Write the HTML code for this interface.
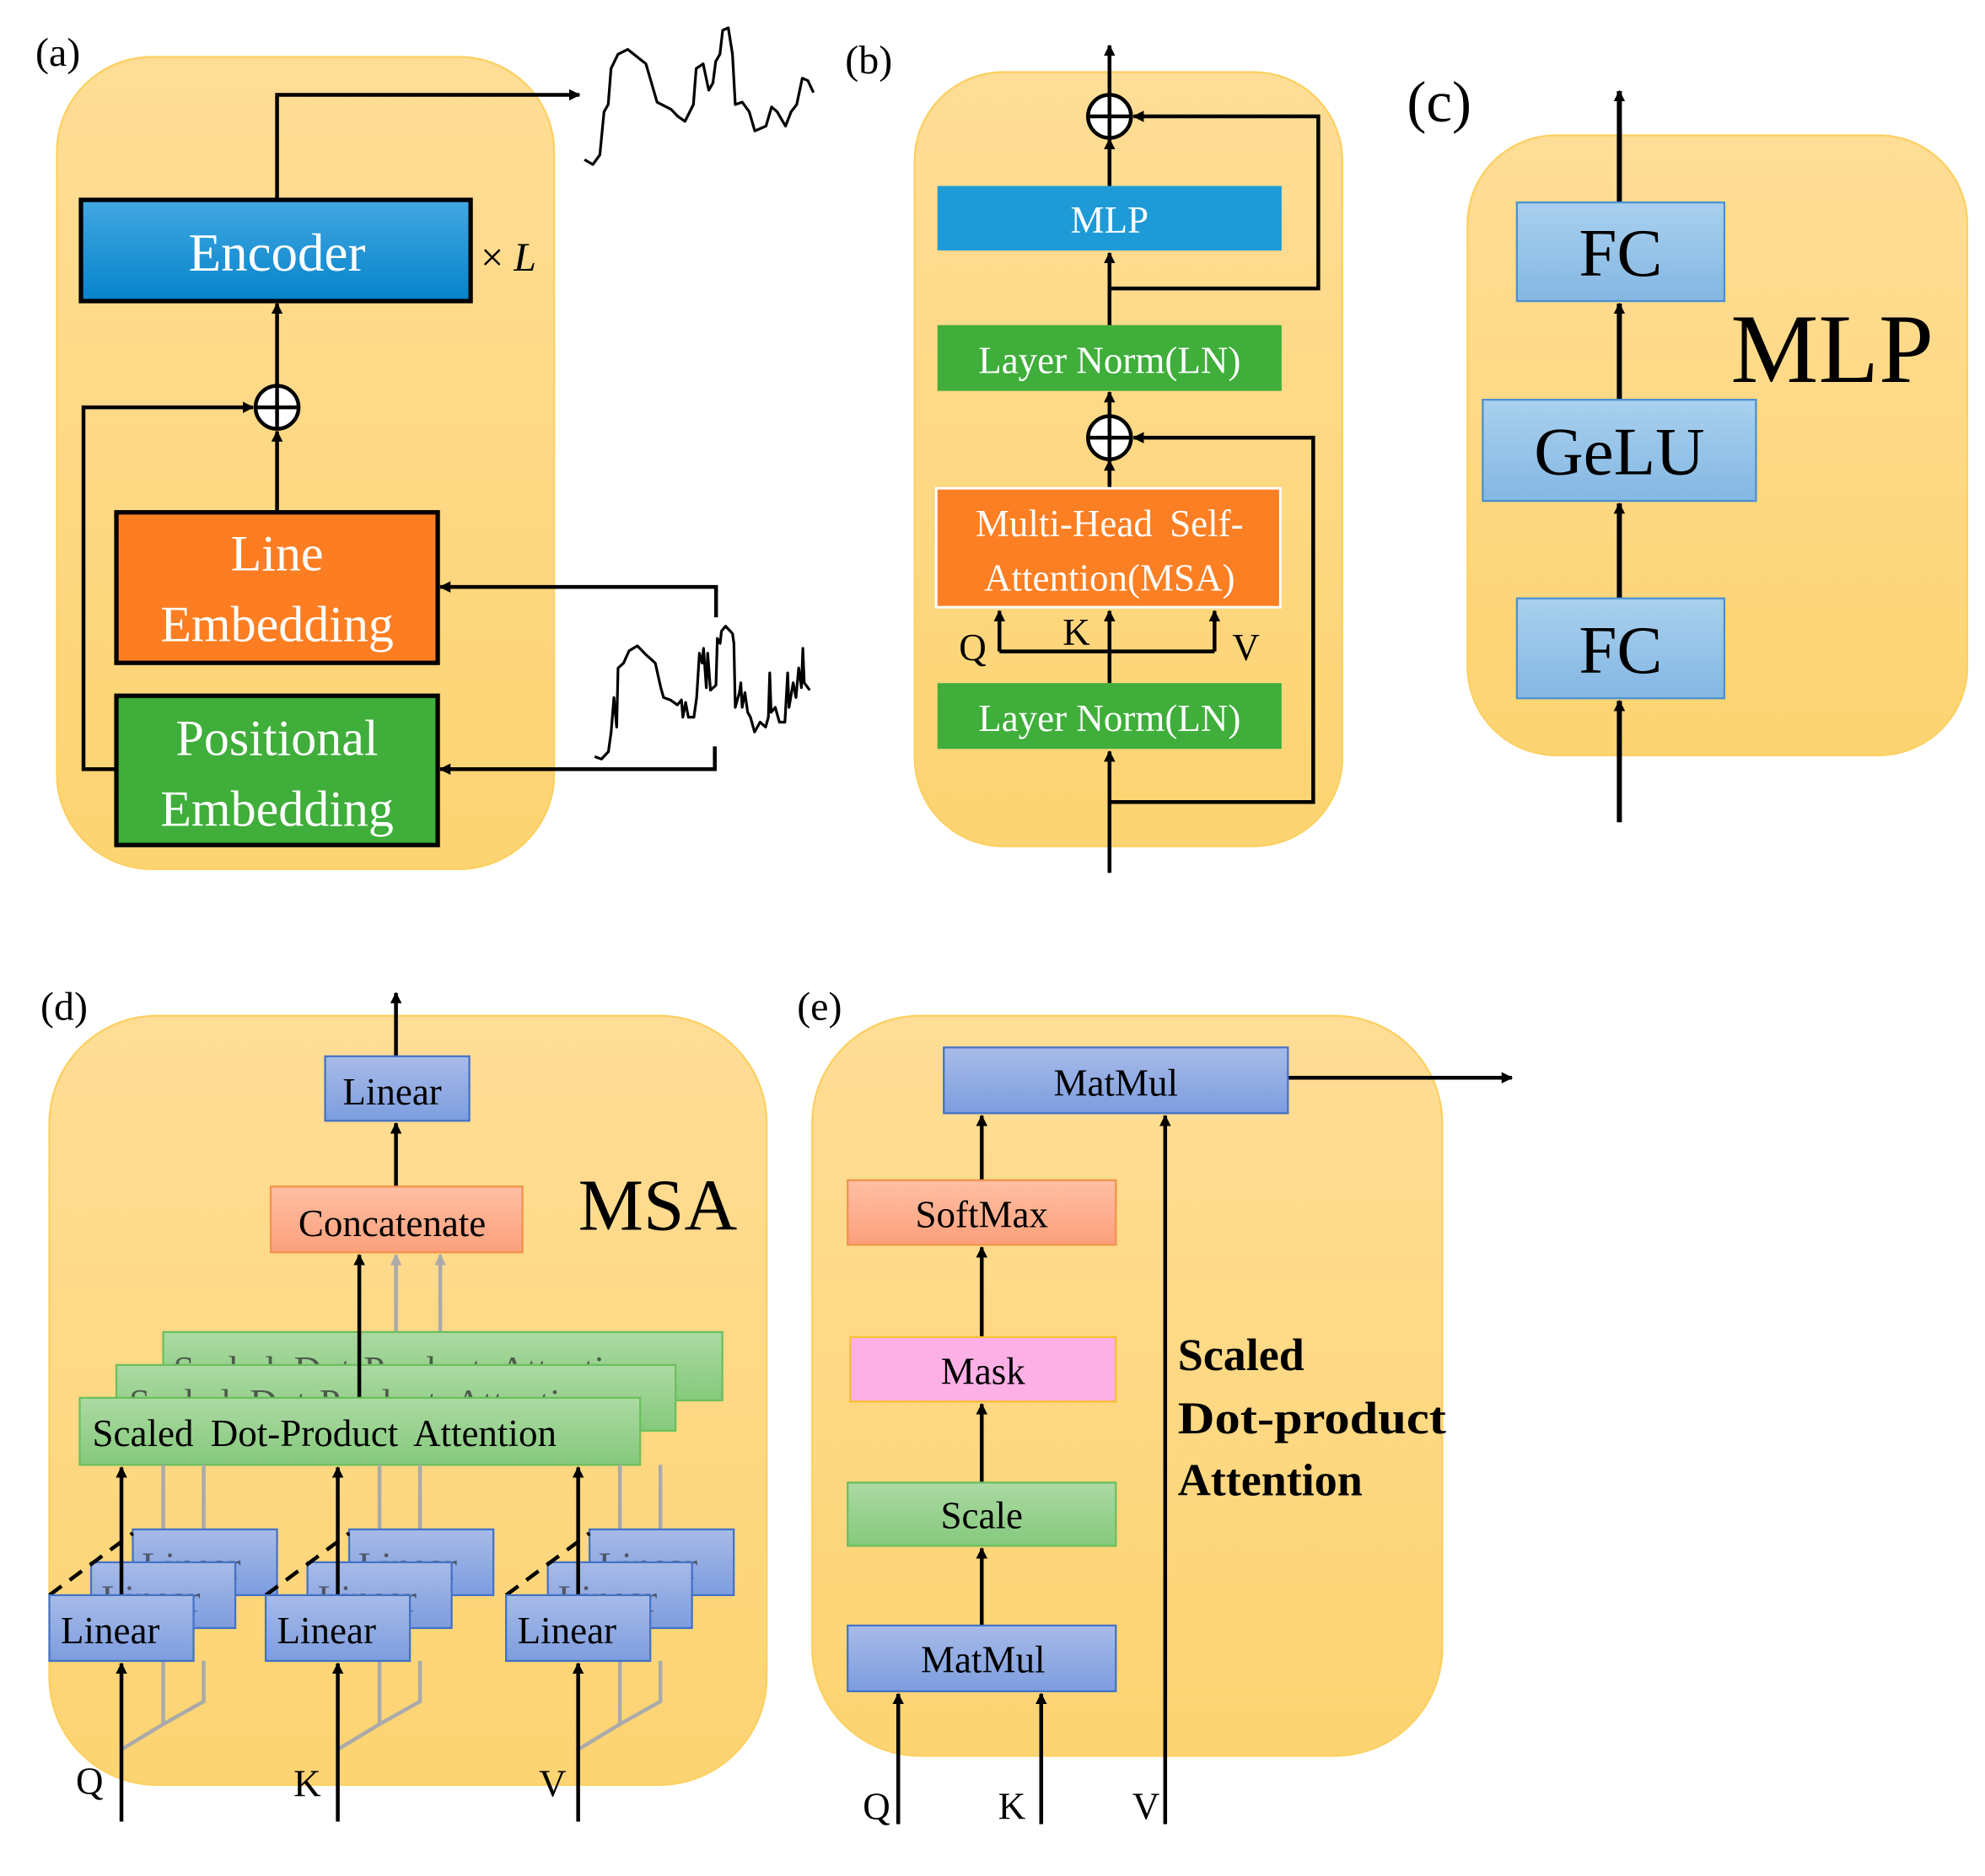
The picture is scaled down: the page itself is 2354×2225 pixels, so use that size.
<!DOCTYPE html>
<html><head><meta charset="utf-8"><style>
html,body{margin:0;padding:0;background:#fff}
svg{display:block;font-family:"Liberation Serif","DejaVu Serif","Times New Roman",serif}
svg text{font-family:"Liberation Serif","DejaVu Serif","Times New Roman",serif !important}
</style></head><body>
<svg width="2354" height="2225" viewBox="0 0 1569 1483" xmlns="http://www.w3.org/2000/svg" font-family="Liberation Serif, serif">
<defs>
<linearGradient id="bg" x1="0" y1="0" x2="0" y2="1"><stop offset="0" stop-color="#fedd96"/><stop offset="1" stop-color="#fdd472"/></linearGradient>
<linearGradient id="enc" x1="0" y1="0" x2="0" y2="1"><stop offset="0" stop-color="#43a8e2"/><stop offset="1" stop-color="#0583ca"/></linearGradient>
<linearGradient id="lb" x1="0" y1="0" x2="0" y2="1"><stop offset="0" stop-color="#a9d0ee"/><stop offset="1" stop-color="#84b7e3"/></linearGradient>
<linearGradient id="db" x1="0" y1="0" x2="0" y2="1"><stop offset="0" stop-color="#a7bbe8"/><stop offset="1" stop-color="#7d9ddf"/></linearGradient>
<linearGradient id="gr" x1="0" y1="0" x2="0" y2="1"><stop offset="0" stop-color="#acdaa3"/><stop offset="1" stop-color="#85c97c"/></linearGradient>
<linearGradient id="sa" x1="0" y1="0" x2="0" y2="1"><stop offset="0" stop-color="#ffbfa3"/><stop offset="1" stop-color="#fca07c"/></linearGradient>
<marker id="ah" viewBox="0 0 10 10" refX="9" refY="5" markerWidth="9" markerHeight="9" markerUnits="userSpaceOnUse" orient="auto"><path d="M0,0L10,5L0,10z" fill="#000"/></marker>
<marker id="ahg" viewBox="0 0 10 10" refX="9" refY="5" markerWidth="9" markerHeight="9" markerUnits="userSpaceOnUse" orient="auto"><path d="M0,0L10,5L0,10z" fill="#aaa"/></marker>
</defs>

<rect x="45" y="45" width="393" height="642" rx="75" fill="url(#bg)" stroke="#fcd060" stroke-width="1.5"/>
<rect x="723" y="57" width="338" height="612" rx="70" fill="url(#bg)" stroke="#fcd060" stroke-width="1.5"/>
<rect x="1160" y="107" width="395" height="490" rx="70" fill="url(#bg)" stroke="#fcd060" stroke-width="1.5"/>
<rect x="39" y="803" width="567" height="608" rx="85" fill="url(#bg)" stroke="#fcd060" stroke-width="1.5"/>
<rect x="642" y="803" width="498" height="585" rx="85" fill="url(#bg)" stroke="#fcd060" stroke-width="1.5"/>

<g font-size="32" fill="#000">
<text x="28" y="52">(a)</text><text x="668" y="58">(b)</text><text x="32" y="806">(d)</text><text x="630" y="806">(e)</text>
</g>
<text x="1112" y="96" font-size="46">(c)</text>

<!-- (a) -->
<g stroke="#000" stroke-width="3" fill="none">
<polyline points="219,158 219,75 458,75" marker-end="url(#ah)"/>
<line x1="219" y1="305" x2="219" y2="240" marker-end="url(#ah)"/>
<line x1="219" y1="404" x2="219" y2="341" marker-end="url(#ah)"/>
<polyline points="92,608 66,608 66,322 200,322" marker-end="url(#ah)"/>
<polyline points="566,488 566,464 348,464" marker-end="url(#ah)"/>
<polyline points="565,590 565,608 348,608" marker-end="url(#ah)"/>
</g>
<circle cx="219" cy="322" r="17" fill="#fff" stroke="#000" stroke-width="3"/>
<path d="M202,322H236M219,305V339" stroke="#000" stroke-width="3"/>
<rect x="64" y="158" width="308" height="80" fill="url(#enc)" stroke="#000" stroke-width="3.5"/>
<text x="219" y="214" font-size="42" fill="#fff" text-anchor="middle">Encoder</text>
<text x="380" y="214" font-size="32" fill="#000">× <tspan font-style="italic">L</tspan></text>
<rect x="92" y="405" width="254" height="119" fill="#fd7e22" stroke="#000" stroke-width="3.5"/>
<text x="219" y="451" font-size="40" fill="#fff" text-anchor="middle">Line</text>
<text x="219" y="507" font-size="40" fill="#fff" text-anchor="middle">Embedding</text>
<rect x="92" y="550" width="254" height="118" fill="#3fae3a" stroke="#000" stroke-width="3.5"/>
<text x="219" y="597" font-size="40" fill="#fff" text-anchor="middle">Positional</text>
<text x="219" y="653" font-size="40" fill="#fff" text-anchor="middle">Embedding</text>
<g fill="none" stroke="#000" stroke-width="3.2" stroke-linejoin="round">
<polyline transform="translate(462,22) scale(0.2207,0.379) translate(-40,-25)" vector-effect="non-scaling-stroke" points="40,300 70,310 95,290 110,200 125,185 135,110 160,80 195,70 260,100 290,160 300,180 350,195 375,210 400,220 430,185 440,110 465,100 485,155 500,140 510,95 525,80 535,30 555,25 570,80 580,185 605,180 630,200 650,240 690,230 710,190 730,200 760,230 780,200 800,185 820,130 840,135 860,160"/>
<polyline transform="translate(470,495) scale(0.218,0.389) translate(-70,-1265)" vector-effect="non-scaling-stroke" points="70,1530 95,1535 120,1520 130,1480 140,1410 150,1470 155,1350 175,1340 195,1315 225,1305 260,1325 290,1340 310,1390 320,1410 345,1415 370,1425 385,1415 390,1450 400,1420 410,1450 430,1450 440,1410 450,1320 460,1340 465,1310 475,1390 480,1320 490,1395 510,1385 515,1290 525,1300 530,1275 545,1265 570,1280 575,1300 580,1430 595,1400 600,1380 605,1430 615,1400 625,1440 635,1450 650,1480 670,1460 690,1470 700,1450 705,1360 710,1440 725,1430 740,1460 760,1460 770,1360 775,1430 790,1380 800,1410 810,1350 820,1390 825,1310 830,1380 850,1395"/>
</g>

<!-- (b) -->
<g stroke="#000" stroke-width="3" fill="none">
<line x1="877" y1="75" x2="877" y2="36" marker-end="url(#ah)"/>
<line x1="877" y1="147" x2="877" y2="110" marker-end="url(#ah)"/>
<line x1="877" y1="257" x2="877" y2="200" marker-end="url(#ah)"/>
<polyline points="877,228 1042,228 1042,92 896,92" marker-end="url(#ah)"/>
<line x1="877" y1="329" x2="877" y2="310" marker-end="url(#ah)"/>
<line x1="877" y1="386" x2="877" y2="364" marker-end="url(#ah)"/>
<line x1="877" y1="540" x2="877" y2="483" marker-end="url(#ah)"/>
<polyline points="790,515 960,515"/>
<line x1="790" y1="515" x2="790" y2="483" marker-end="url(#ah)"/>
<line x1="960" y1="515" x2="960" y2="483" marker-end="url(#ah)"/>
<line x1="877" y1="690" x2="877" y2="594" marker-end="url(#ah)"/>
<polyline points="877,634 1038,634 1038,346 896,346" marker-end="url(#ah)"/>
</g>
<circle cx="877" cy="92" r="17" fill="#fff" stroke="#000" stroke-width="3"/>
<path d="M860,92H894M877,75V109" stroke="#000" stroke-width="3"/>
<circle cx="877" cy="346" r="17" fill="#fff" stroke="#000" stroke-width="3"/>
<path d="M860,346H894M877,329V363" stroke="#000" stroke-width="3"/>
<rect x="741" y="147" width="272" height="51" fill="#1e9bd7"/>
<text x="877" y="184" font-size="30" fill="#fff" text-anchor="middle">MLP</text>
<rect x="741" y="257" width="272" height="52" fill="#3fae3a"/>
<text x="877" y="295" font-size="30" fill="#fff" text-anchor="middle">Layer Norm(LN)</text>
<rect x="740" y="386" width="272" height="94" fill="#fd7f23" stroke="#fff" stroke-width="2"/>
<text x="877" y="424" font-size="30" fill="#fff" text-anchor="middle" word-spacing="6">Multi-Head Self-</text>
<text x="877" y="467" font-size="30" fill="#fff" text-anchor="middle">Attention(MSA)</text>
<rect x="741" y="540" width="272" height="52" fill="#3fae3a"/>
<text x="877" y="578" font-size="30" fill="#fff" text-anchor="middle">Layer Norm(LN)</text>
<g font-size="30" fill="#000"><text x="758" y="522">Q</text><text x="840" y="510">K</text><text x="974" y="522">V</text></g>

<!-- (c) -->
<g stroke="#000" stroke-width="4" fill="none">
<line x1="1280" y1="650" x2="1280" y2="554" marker-end="url(#ah)"/>
<line x1="1280" y1="473" x2="1280" y2="398" marker-end="url(#ah)"/>
<line x1="1280" y1="316" x2="1280" y2="240" marker-end="url(#ah)"/>
<line x1="1280" y1="160" x2="1280" y2="72" marker-end="url(#ah)"/>
</g>
<rect x="1199" y="160" width="164" height="78" fill="url(#lb)" stroke="#4a90d0" stroke-width="1.5"/>
<text x="1281" y="218" font-size="54" text-anchor="middle">FC</text>
<rect x="1172" y="316" width="216" height="80" fill="url(#lb)" stroke="#4a90d0" stroke-width="1.5"/>
<text x="1280" y="375" font-size="54" text-anchor="middle">GeLU</text>
<rect x="1199" y="473" width="164" height="79" fill="url(#lb)" stroke="#4a90d0" stroke-width="1.5"/>
<text x="1281" y="532" font-size="54" text-anchor="middle">FC</text>
<text x="1368" y="302" font-size="78">MLP</text>

<!-- (d) -->
<g stroke="#000" stroke-width="3" fill="none">
<line x1="313" y1="835" x2="313" y2="785" marker-end="url(#ah)"/>
<line x1="313" y1="938" x2="313" y2="888" marker-end="url(#ah)"/>
</g>
<g stroke="#aaa" stroke-width="3" fill="none">
<line x1="313" y1="1053" x2="313" y2="992" marker-end="url(#ahg)"/>
<line x1="348" y1="1053" x2="348" y2="992" marker-end="url(#ahg)"/>
</g>
<rect x="129" y="1053" width="442" height="54" fill="url(#gr)" stroke="#6bbf5e" stroke-width="1.5"/>
<text x="137" y="1093" font-size="30" fill="#333" opacity=".75" word-spacing="8">Scaled Dot-Product Attention</text>
<rect x="92" y="1079" width="442" height="52" fill="url(#gr)" stroke="#6bbf5e" stroke-width="1.5"/>
<text x="102" y="1119" font-size="30" fill="#333" opacity=".75" word-spacing="8">Scaled Dot-Product Attention</text>
<line x1="284" y1="1105" x2="284" y2="992" stroke="#000" stroke-width="3" marker-end="url(#ah)"/>
<rect x="63" y="1105" width="443" height="53" fill="url(#gr)" stroke="#6bbf5e" stroke-width="1.5"/>
<text x="73" y="1143" font-size="30" word-spacing="6">Scaled Dot-Product Attention</text>
<rect x="214" y="938" width="199" height="52" fill="url(#sa)" stroke="#f4914c" stroke-width="1.5"/>
<text x="310" y="977" font-size="30" text-anchor="middle">Concatenate</text>
<rect x="257" y="835" width="114" height="51" fill="url(#db)" stroke="#4472c4" stroke-width="1.5"/>
<text x="310" y="873" font-size="30" text-anchor="middle">Linear</text>
<text x="457" y="972" font-size="58">MSA</text>

<g id="grp">
<g stroke="#aaa" stroke-width="3" fill="none">
<line x1="129" y1="1209" x2="129" y2="1158"/>
<line x1="161" y1="1209" x2="161" y2="1158"/>
<polyline points="96,1383 129,1363 161,1345 161,1313"/>
<line x1="129" y1="1363" x2="129" y2="1313"/>
</g>
<rect x="105" y="1209" width="114" height="52" fill="url(#db)" stroke="#4472c4" stroke-width="1.5"/>
<text x="112" y="1248" font-size="30" fill="#333" opacity=".7">Linear</text>
<rect x="72" y="1235" width="114" height="52" fill="url(#db)" stroke="#4472c4" stroke-width="1.5"/>
<text x="80" y="1274" font-size="30" fill="#333" opacity=".7">Linear</text>
<line x1="96" y1="1261" x2="96" y2="1160" stroke="#000" stroke-width="3" marker-end="url(#ah)"/>
<line x1="39" y1="1261" x2="105" y2="1212" stroke="#000" stroke-width="3" stroke-dasharray="12,8"/>
<rect x="39" y="1261" width="114" height="52" fill="url(#db)" stroke="#4472c4" stroke-width="1.5"/>
<text x="48" y="1299" font-size="30">Linear</text>
<line x1="96" y1="1440" x2="96" y2="1315" stroke="#000" stroke-width="3" marker-end="url(#ah)"/>
</g>
<use href="#grp" transform="translate(171,0)"/>
<use href="#grp" transform="translate(361,0)"/>
<g font-size="30"><text x="60" y="1418">Q</text><text x="232" y="1420">K</text><text x="426" y="1420">V</text></g>

<!-- (e) -->
<g stroke="#000" stroke-width="3" fill="none">
<line x1="1018" y1="852" x2="1195" y2="852" marker-end="url(#ah)"/>
<line x1="776" y1="933" x2="776" y2="882" marker-end="url(#ah)"/>
<line x1="776" y1="1057" x2="776" y2="986" marker-end="url(#ah)"/>
<line x1="776" y1="1172" x2="776" y2="1110" marker-end="url(#ah)"/>
<line x1="776" y1="1285" x2="776" y2="1224" marker-end="url(#ah)"/>
<line x1="710" y1="1442" x2="710" y2="1339" marker-end="url(#ah)"/>
<line x1="823" y1="1442" x2="823" y2="1339" marker-end="url(#ah)"/>
<line x1="921" y1="1442" x2="921" y2="882" marker-end="url(#ah)"/>
</g>
<rect x="746" y="828" width="272" height="52" fill="url(#db)" stroke="#4472c4" stroke-width="1.5"/>
<text x="882" y="866" font-size="30" text-anchor="middle">MatMul</text>
<rect x="670" y="933" width="212" height="51" fill="url(#sa)" stroke="#f4914c" stroke-width="1.5"/>
<text x="776" y="970" font-size="30" text-anchor="middle">SoftMax</text>
<rect x="672" y="1057" width="210" height="51" fill="#fdb0e6" stroke="#f5c030" stroke-width="1.5"/>
<text x="777" y="1094" font-size="30" text-anchor="middle">Mask</text>
<rect x="670" y="1172" width="212" height="50" fill="url(#gr)" stroke="#6bbf5e" stroke-width="1.5"/>
<text x="776" y="1208" font-size="30" text-anchor="middle">Scale</text>
<rect x="670" y="1285" width="212" height="52" fill="url(#db)" stroke="#4472c4" stroke-width="1.5"/>
<text x="777" y="1322" font-size="30" text-anchor="middle">MatMul</text>
<g font-size="36" font-weight="bold"><text x="931" y="1083">Scaled</text><text x="931" y="1133" textLength="212" lengthAdjust="spacingAndGlyphs">Dot-product</text><text x="931" y="1182">Attention</text></g>
<g font-size="30"><text x="682" y="1438">Q</text><text x="789" y="1438">K</text><text x="895" y="1438">V</text></g>
</svg>
</body></html>
